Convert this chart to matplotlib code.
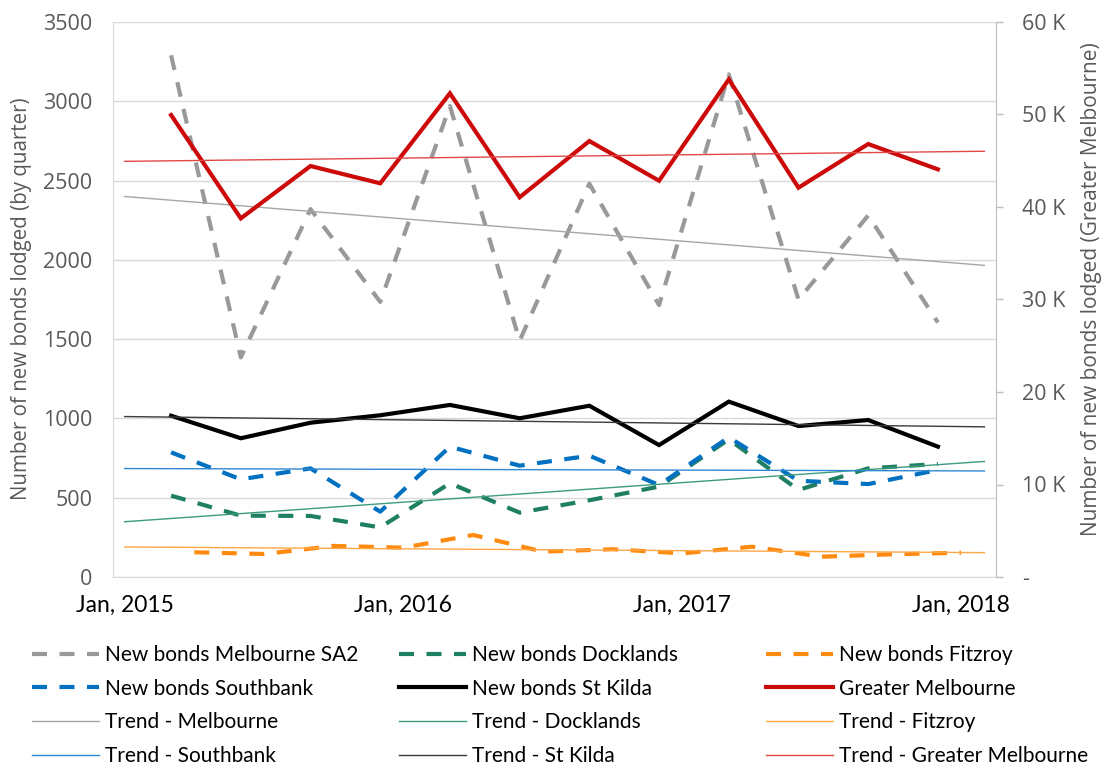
import numpy as np
import matplotlib
matplotlib.use("Agg")
import matplotlib.pyplot as plt

# ---- data (x = months since Jan 2015) ----
months = [2, 5, 8, 11, 14, 17, 20, 23, 26, 29, 32, 35]
months_fitzroy = [3, 6, 9, 12, 15, 18, 21, 24, 27, 30, 33, 36]

melbourne_sa2 = [3290, 1385, 2320, 1735, 2970, 1490, 2480, 1715, 3170, 1750, 2280, 1605]
docklands = [513, 387, 385, 313, 591, 406, 484, 570, 868, 549, 685, 713]
fitzroy = [156, 145, 196, 185, 265, 160, 175, 149, 191, 128, 143, 153]
southbank = [786, 616, 685, 412, 822, 702, 765, 580, 881, 607, 586, 675]
st_kilda = [1017, 875, 973, 1020, 1085, 1001, 1080, 832, 1106, 952, 990, 822]
greater_melbourne = [49940, 38770, 44430, 42560, 52290, 41050, 47130, 42840, 53800, 42090, 46810, 44070]

tick_months = [0, 12, 24, 36]
tick_labels = ["Jan, 2015", "Jan, 2016", "Jan, 2017", "Jan, 2018"]
trend_span = [0, 37]

left_ticks = [0, 500, 1000, 1500, 2000, 2500, 3000, 3500]
right_ticks = [0, 10000, 20000, 30000, 40000, 50000, 60000]

# ---- styling ----
W, H = 1115, 765
fig = plt.figure(figsize=(W / 100, H / 100), dpi=100)
L, R, T, B = 113, 996, 22, 577
ax = fig.add_axes([L / W, 1 - B / H, (R - L) / W, (B - T) / H])
ax2 = ax.twinx()

tick_font = "Open Sans"
leg_font = "Lato"
grey_txt = "#595959"

DASH = (3.6, 3.0)
LW = 3.0

def trend(x, y):
    p = np.polyfit(x, y, 1)
    xs = np.array(trend_span, dtype=float)
    return xs, np.polyval(p, xs)

series = [
    ("New bonds Melbourne SA2", months, melbourne_sa2, "#999999", "dash", ax, "Trend - Melbourne", "#a6a6a6"),
    ("New bonds Docklands", months, docklands, "#1f7f62", "dash", ax, "Trend - Docklands", "#3d9b7e"),
    ("New bonds Fitzroy", months_fitzroy, fitzroy, "#ff8a10", "dash", ax, "Trend - Fitzroy", "#ffa646"),
    ("New bonds Southbank", months, southbank, "#0070c0", "dash", ax, "Trend - Southbank", "#2f88d2"),
    ("New bonds St Kilda", months, st_kilda, "#000000", "solid", ax, "Trend - St Kilda", "#3a3a3a"),
    ("Greater Melbourne", months, greater_melbourne, "#cc0a0a", "solid", ax2, "Trend - Greater Melbourne", "#e04848"),
]

handles = {}
trend_handles = {}
for i, (name, x, y, c, style, a, tname, tc) in enumerate(series):
    if style == "dash":
        ln, = a.plot(x, y, color=c, lw=LW, dashes=DASH, dash_capstyle="butt",
                     solid_joinstyle="miter", zorder=3 + i * 0.1)
    else:
        ln, = a.plot(x, y, color=c, lw=LW, solid_joinstyle="miter", zorder=3 + i * 0.1)
    handles[name] = ln
    tx, ty = trend(x, y)
    tl, = a.plot(tx, ty, color=tc, lw=1.0, zorder=4)
    trend_handles[tname] = tl

# axes limits
ax.set_xlim(-0.5, 37.5)
ax.set_ylim(0, 3500)
ax2.set_ylim(0, 60000)

ax.set_yticks(left_ticks)
ax.set_yticklabels([str(v) for v in left_ticks])
ax2.set_yticks(right_ticks)
ax2.set_yticklabels(["-" if v == 0 else f"{v // 1000} K" for v in right_ticks])
ax.set_xticks(tick_months)
ax.set_xticklabels(tick_labels)

ax.grid(axis="y", color="#d9d9d9", lw=1.0, zorder=0)
ax.set_axisbelow(True)

for a in (ax, ax2):
    a.spines["top"].set_visible(False)
ax.spines["left"].set_color("#d9d9d9")
ax.spines["bottom"].set_color("#d9d9d9")
ax.spines["right"].set_visible(False)
ax2.spines["left"].set_visible(False)
ax2.spines["bottom"].set_visible(False)
ax2.spines["right"].set_color("#bfbfbf")

ax.tick_params(axis="y", length=0, pad=15, labelsize=15.5, labelcolor=grey_txt)
ax.tick_params(axis="x", length=0, pad=13, labelsize=16.5, labelcolor="#000000")
ax2.tick_params(axis="y", length=5, width=1, color="#bfbfbf", pad=14, labelsize=15.5,
                labelcolor=grey_txt)
for lab in ax.get_yticklabels() + ax2.get_yticklabels():
    lab.set_fontfamily(tick_font)
for lab in ax.get_xticklabels():
    lab.set_fontfamily(leg_font)

fig.text(22 / W, 1 - 299 / H, "Number of new bonds lodged (by quarter)", rotation=90,
         ha="center", va="center", fontsize=14.8, color=grey_txt, family=tick_font)
fig.text(1092 / W, 1 - 289 / H, "Number of new bonds lodged (Greater Melbourne)", rotation=90,
         ha="center", va="center", fontsize=15, color=grey_txt, family=tick_font)

# legend: three columns, each its own legend block
columns = [
    (32, ["New bonds Melbourne SA2", "New bonds Southbank", "Trend - Melbourne", "Trend - Southbank"]),
    (399, ["New bonds Docklands", "New bonds St Kilda", "Trend - Docklands", "Trend - St Kilda"]),
    (766, ["New bonds Fitzroy", "Greater Melbourne", "Trend - Fitzroy", "Trend - Greater Melbourne"]),
]
allh = {**handles, **trend_handles}
for xpx, names in columns:
    hs = [allh[n] for n in names]
    fig.legend(hs, names, loc="upper left", bbox_to_anchor=(xpx / W, 1 - 645 / H),
               frameon=False, borderpad=0, borderaxespad=0, handlelength=3.2,
               handletextpad=0.3, labelspacing=0.66,
               prop={"family": leg_font, "size": 15})

fig.savefig("out.png", dpi=100)
